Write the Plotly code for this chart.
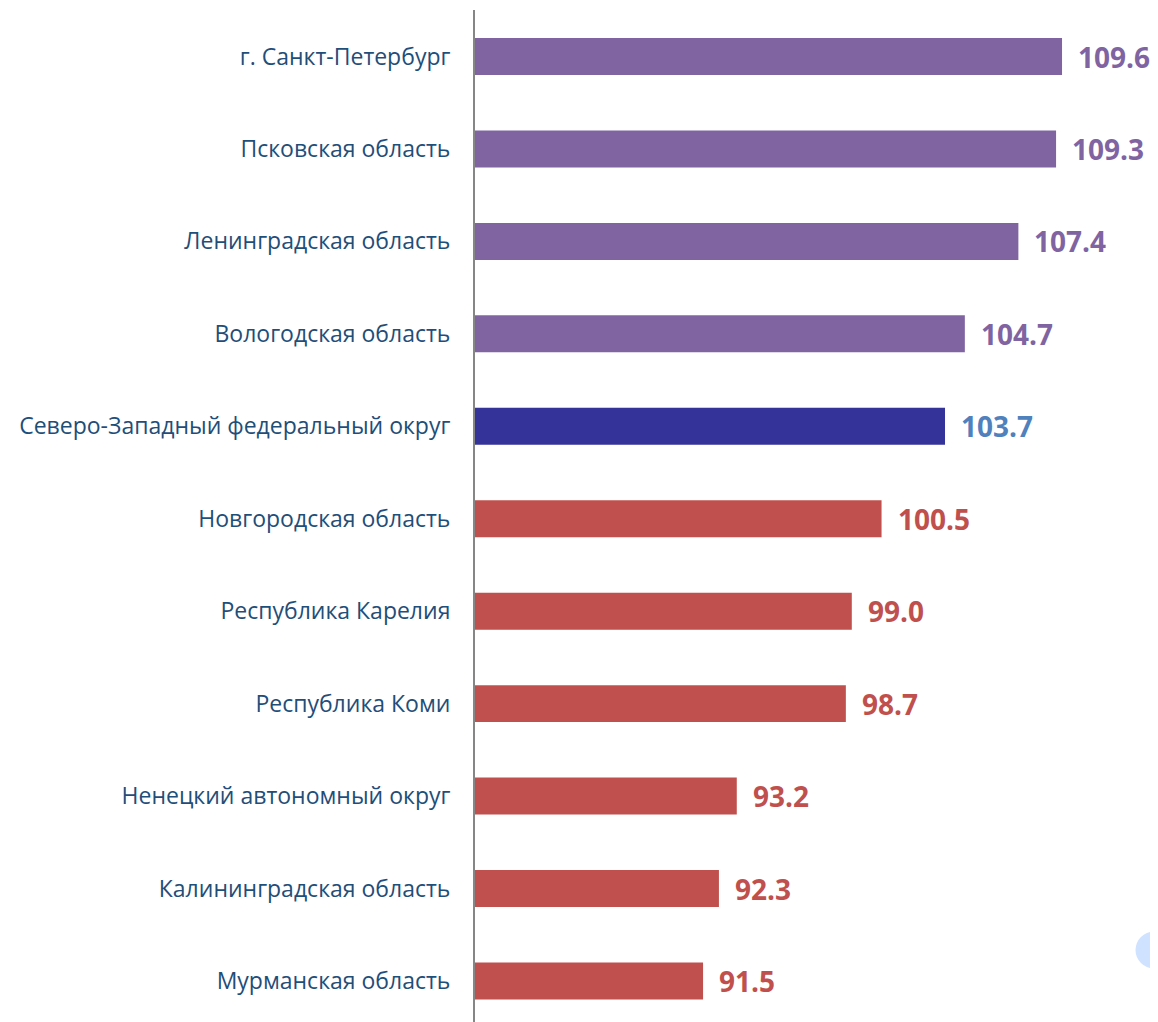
import plotly.graph_objects as go

categories = [
    "г. Санкт-Петербург",
    "Псковская область",
    "Ленинградская область",
    "Вологодская область",
    "Северо-Западный федеральный округ",
    "Новгородская область",
    "Республика Карелия",
    "Республика Коми",
    "Ненецкий автономный округ",
    "Калининградская область",
    "Мурманская область",
]
values = [109.6, 109.3, 107.4, 104.7, 103.7, 100.5, 99.0, 98.7, 93.2, 92.3, 91.5]

PURPLE = "#8064A2"
NAVY = "#333399"
RED = "#C0504D"
LBLUE = "#4F81BD"

bar_colors = []
label_colors = []
for c, v in zip(categories, values):
    if c == "Северо-Западный федеральный округ":
        bar_colors.append(NAVY)
        label_colors.append(LBLUE)
    elif v > 103.7:
        bar_colors.append(PURPLE)
        label_colors.append(PURPLE)
    else:
        bar_colors.append(RED)
        label_colors.append(RED)

fig = go.Figure()
fig.add_trace(go.Bar(
    x=values, y=categories, orientation="h",
    marker=dict(color=bar_colors, line=dict(width=0)),
    hoverinfo="skip",
))

for c, v, col in zip(categories, values, label_colors):
    fig.add_annotation(
        x=v, y=c, text=f"<b>{v:.1f}</b>", showarrow=False,
        xanchor="left", yanchor="middle", xshift=14,
        font=dict(family="Open Sans", size=28, color=col),
    )

# page offset of 8px (body margin): plot area spans page x 475..1158, y 10..1048
fig.add_shape(type="circle", xref="paper", yref="paper",
              x0=(1135.5 - 475) / 683, x1=(1172.5 - 475) / 683,
              y0=(1048 - 968.5) / 1038, y1=(1048 - 931.5) / 1038,
              fillcolor="#CFE2FF", line=dict(width=0), layer="above")

fig.update_layout(
    width=1150, height=1040,
    margin=dict(l=467, r=0, t=2, b=0, pad=0),
    paper_bgcolor="white", plot_bgcolor="white",
    bargap=0.6,
    showlegend=False,
    xaxis=dict(range=[80, 114.44], showgrid=False, zeroline=False,
               showticklabels=False, ticks="", showline=False),
    yaxis=dict(type="category", categoryorder="array", categoryarray=categories,
               range=[10.725, -0.503], showgrid=False, zeroline=False,
               showline=True, linecolor="#868686", linewidth=2,
               ticks="", ticklabelstandoff=18,
               tickfont=dict(family="Open Sans", size=23, color="#1F4E79")),
)

fig.write_html("out.html")
